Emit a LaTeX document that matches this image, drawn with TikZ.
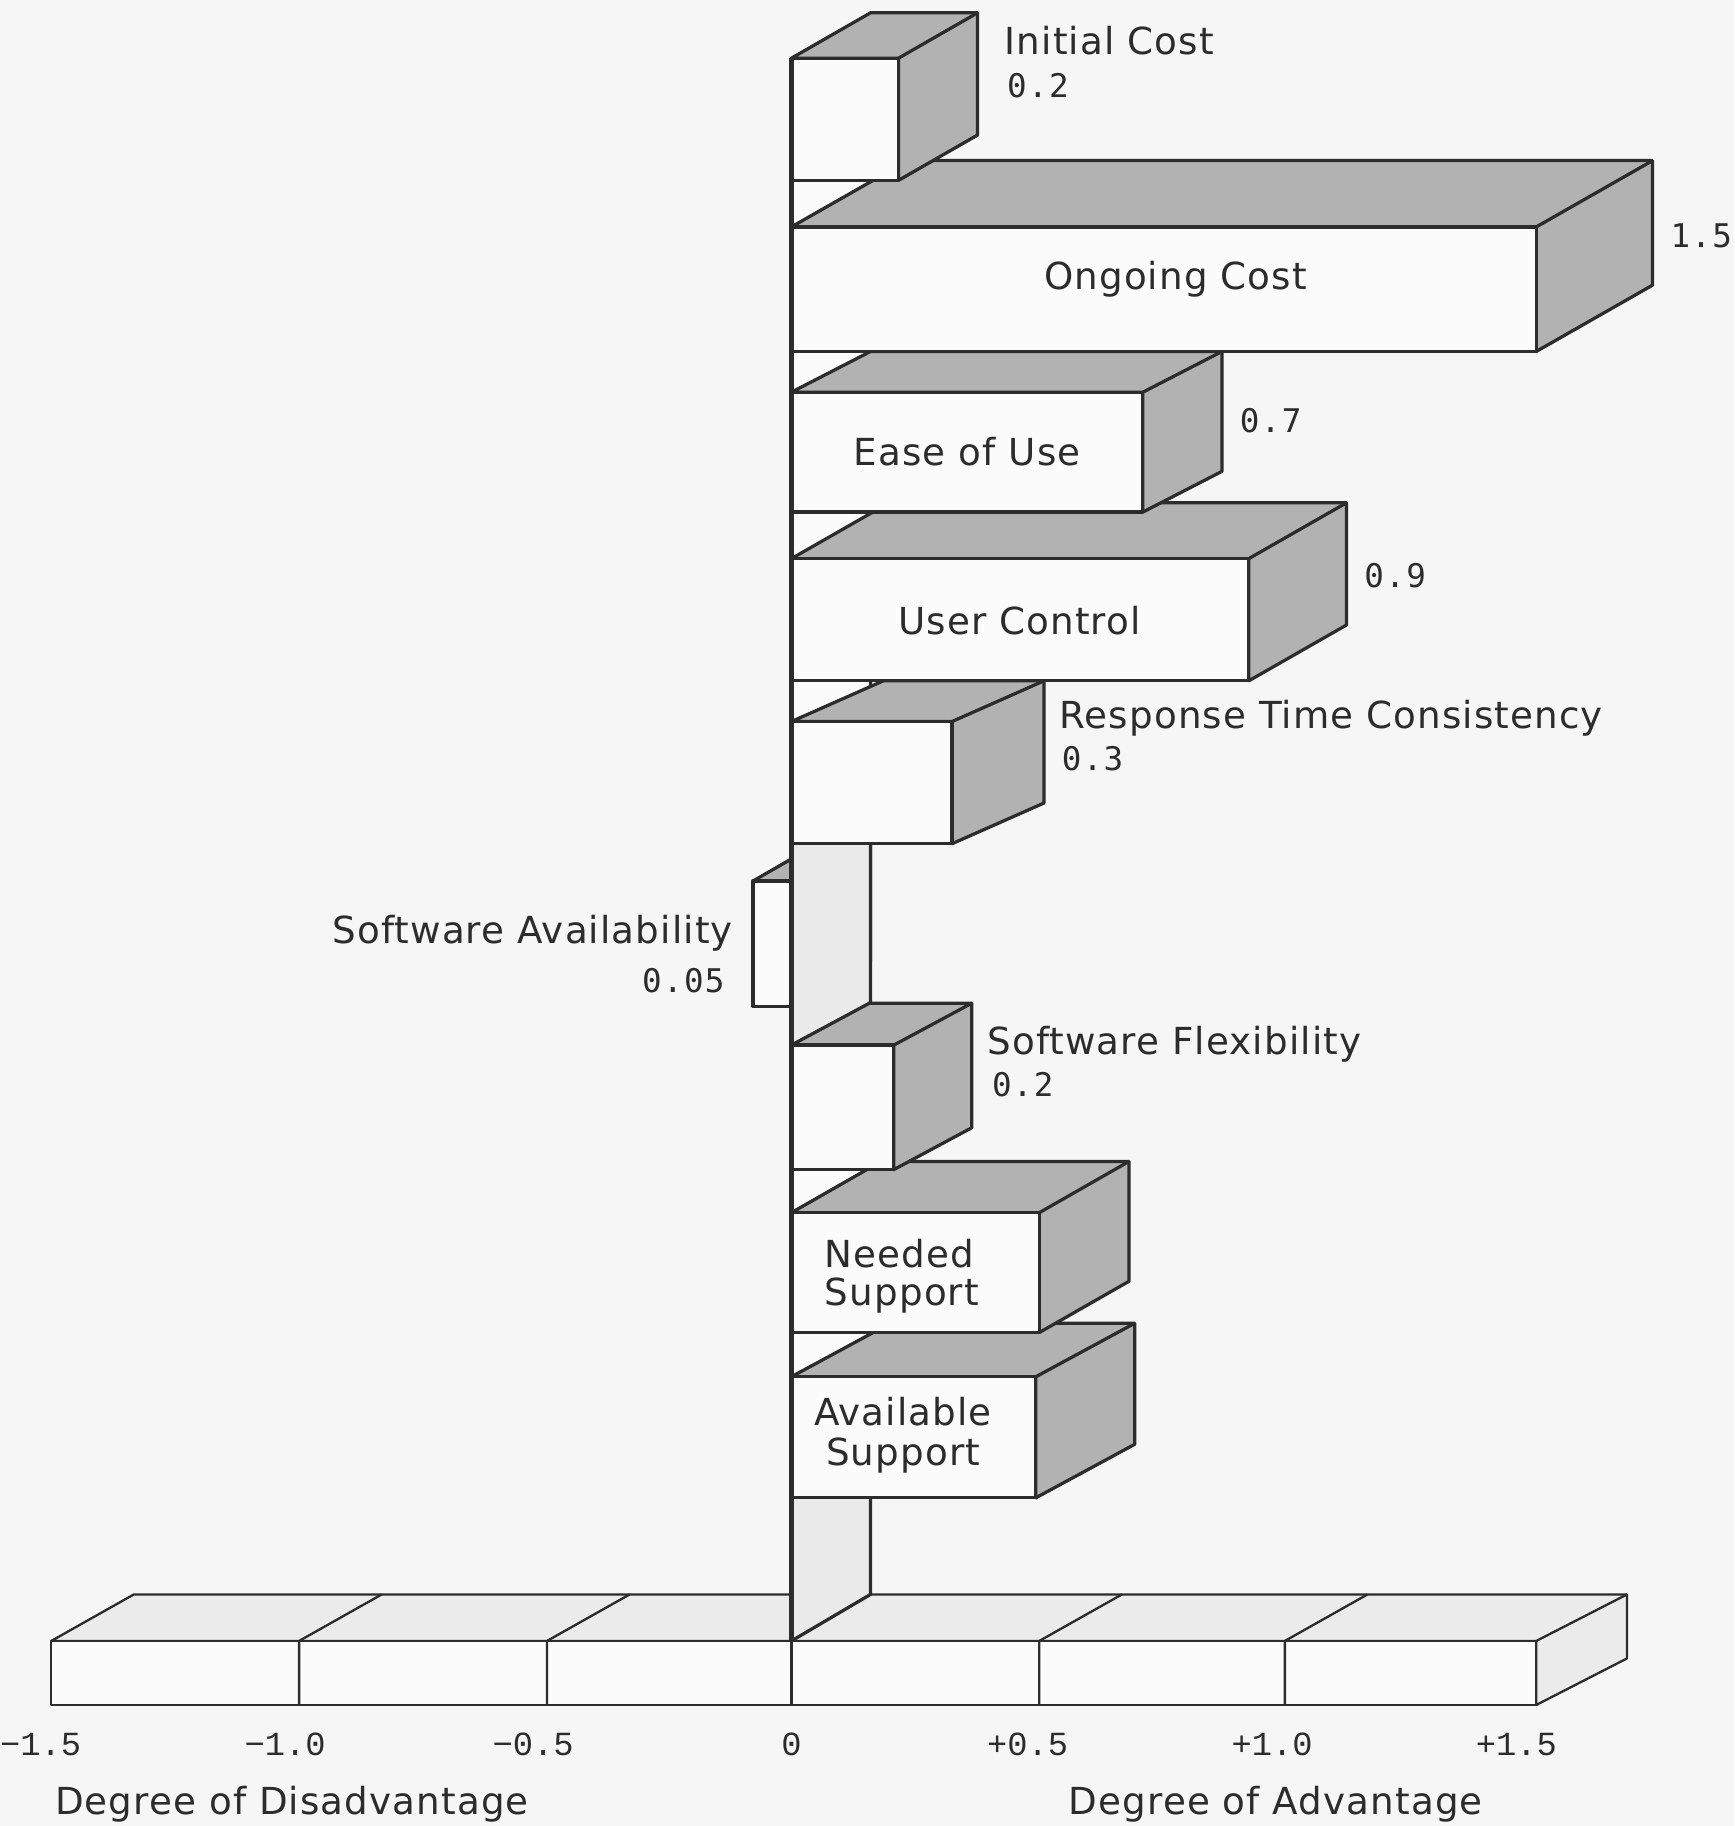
\documentclass[tikz,border=0pt]{standalone}
\usepackage{fontspec}
\setmainfont{DejaVu Sans}
\newfontfamily\lblfont[LetterSpace=3]{DejaVu Sans}
\newfontfamily\numfont[LetterSpace=4]{DejaVu Sans Mono}
\newfontfamily\tickfont{Liberation Mono}
\definecolor{bgcol}{HTML}{F6F6F6}
\definecolor{frontcol}{HTML}{FBFBFB}
\definecolor{shadecol}{HTML}{B2B2B2}
\definecolor{wallcol}{HTML}{EAEAEA}
\definecolor{floorcol}{HTML}{EBEBEB}
\definecolor{inkcol}{HTML}{2C2C2C}
% #1 x0, #2 x1, #3 ytop, #4 ybottom, #5 dx, #6 dy (depth)
\newcommand{\drawbarbox}[6]{%
  \filldraw[barline, fill=shadecol] (#1,#3) -- (#1+#5,#3-#6) -- (#2+#5,#3-#6) -- (#2+#5,#4-#6) -- (#2,#4) -- (#2,#3) -- cycle;
  \draw[barline] (#2,#3) -- (#2+#5,#3-#6);
  \filldraw[barline, fill=frontcol] (#1,#3) rectangle (#2,#4);
}
\begin{document}
\begin{tikzpicture}[x=0.5pt,y=-0.5pt,
  barline/.style={draw=inkcol, line width=1.4pt, line join=round},
  thinline/.style={draw=inkcol, line width=1pt, line join=round},
  lbl/.style={inner sep=0pt, text=inkcol, font=\lblfont\fontsize{16}{19}\selectfont},
  num/.style={inner sep=0pt, text=inkcol, font=\numfont\fontsize{14}{17}\selectfont},
  tick/.style={inner sep=0pt, text=inkcol, font=\tickfont\fontsize{14.5}{17}\selectfont}]
% background / bounding box
\fill[bgcol] (0,0) rectangle (1490,1569);
\useasboundingbox (0,0) rectangle (1490,1569);

% bottom axis box
\filldraw[thinline, fill=floorcol] (44,1410) -- (115,1370) -- (1398,1370) -- (1398,1425) -- (1320,1465) -- (1320,1410) -- cycle;
\draw[thinline] (1320,1410) -- (1398,1370);
\filldraw[thinline, fill=frontcol] (44,1410) rectangle (1320,1465);
\foreach \t in {257,470,893,1104}{
  \draw[thinline] (\t,1465) -- (\t,1410) -- (\t+71,1370);
}
\draw[thinline] (680,1465) -- (680,1410);

% negative bar (behind the zero wall)
\drawbarbox{647}{680}{757}{865}{68}{39}

% zero wall
\fill[frontcol] (680,50) -- (748,11) -- (748,1370) -- (680,1410) -- cycle;
\fill[wallcol] (680,725) rectangle (748,905);
\fill[wallcol] (680,1287) -- (748,1287) -- (748,1370) -- (680,1410) -- cycle;
\draw[barline] (748,11) -- (748,1370) -- (680,1410);

% positive bars, lowest first
\drawbarbox{680}{890}{1183}{1287}{85}{46}
\drawbarbox{680}{893}{1042}{1145}{77}{44}
\drawbarbox{680}{768}{898}{1005}{67}{36}
\drawbarbox{680}{818}{620}{725}{79}{35}
\drawbarbox{680}{1073}{480}{585}{84}{48}
\drawbarbox{680}{982}{337}{440}{68}{35}
\drawbarbox{680}{1320}{195}{302}{100}{57}
\drawbarbox{680}{772}{50}{155}{68}{39}

% zero axis line
\draw[draw=inkcol, line width=2.4pt] (680,50) -- (680,1410);

% labels
\node[lbl, anchor=base west] (initial) at (863,47) {Initial Cost};
\node[num, anchor=base west] (initialv) at (865,84) {0.2};
\node[num, anchor=base west] (ongoingv) at (1435,213) {1.5};
\node[lbl, anchor=base] (ongoing) at (1010,249) {Ongoing Cost};
\node[num, anchor=base west] (easev) at (1065,372) {0.7};
\node[lbl, anchor=base] (ease) at (831,400) {Ease of Use};
\node[num, anchor=base west] (userv) at (1172,505) {0.9};
\node[lbl, anchor=base] (user) at (876,545) {User Control};
\node[lbl, anchor=base west] (resp) at (910,626) {Response Time Consistency};
\node[num, anchor=base west] (respv) at (912,662) {0.3};
\node[lbl, anchor=base east] (sa) at (630,811) {Software Availability};
\node[num, anchor=base east] (sav) at (623,853) {0.05};
\node[lbl, anchor=base west] (sf) at (848,906) {Software Flexibility};
\node[num, anchor=base west] (sfv) at (852,942) {0.2};
\node[lbl, anchor=base] (ns1) at (773,1089) {Needed};
\node[lbl, anchor=base] (ns2) at (775,1122) {Support};
\node[lbl, anchor=base] (as1) at (776,1225) {Available};
\node[lbl, anchor=base] (as2) at (776,1259) {Support};

% tick labels
\node[tick, anchor=base] (tm15) at (35,1508) {−1.5};
\node[tick, anchor=base] (tm10) at (245,1508) {−1.0};
\node[tick, anchor=base] (tm05) at (458,1508) {−0.5};
\node[tick, anchor=base] (t0) at (680,1508) {0};
\node[tick, anchor=base] (tp05) at (883,1508) {+0.5};
\node[tick, anchor=base] (tp10) at (1093,1508) {+1.0};
\node[tick, anchor=base] (tp15) at (1303,1508) {+1.5};

% axis titles
\node[lbl, anchor=base west] (dis) at (47,1559) {Degree of Disadvantage};
\node[lbl, anchor=base west] (adv) at (918,1559) {Degree of Advantage};
\end{tikzpicture}
\end{document}
